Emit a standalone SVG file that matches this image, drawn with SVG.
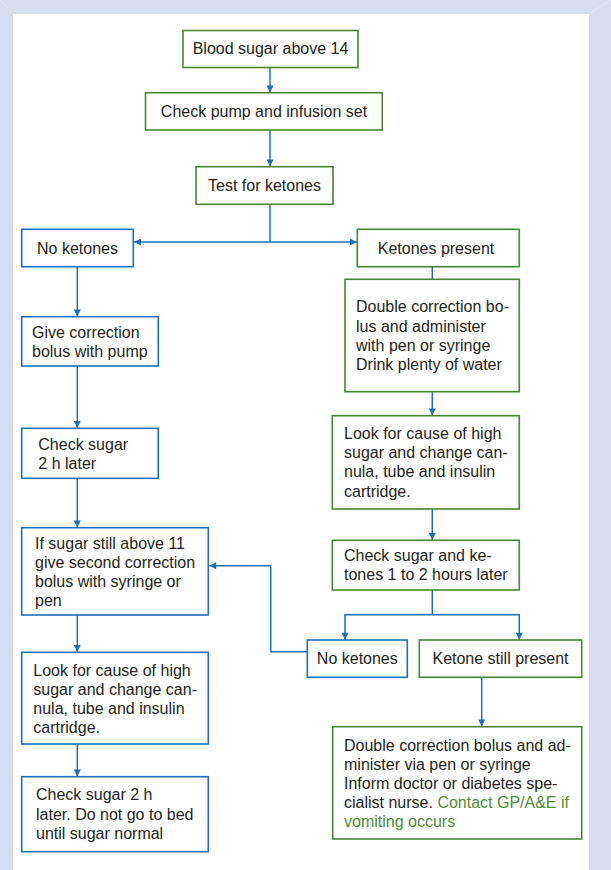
<svg xmlns="http://www.w3.org/2000/svg" width="611" height="870" viewBox="0 0 611 870">
<style>
  text { font-family: "Liberation Sans", Arial, sans-serif; font-size: 16px; fill: #231f20; }
  .c { text-anchor: middle; }
  .g rect { fill: #ffffff; stroke: #4b8236; stroke-width: 1.6; }
  .b rect { fill: #ffffff; stroke: #1d6fb8; stroke-width: 1.6; }
  .conn { fill: none; stroke: #1d6fb8; stroke-width: 1.5; }
  .gt { fill: #4e8c36; }
</style>
<defs>
  <marker id="ah" viewBox="0 0 10 10" refX="10" refY="5" markerUnits="userSpaceOnUse" markerWidth="8" markerHeight="7" orient="auto">
    <path d="M0,0 L10,5 L0,10 z" fill="#1d6fb8"/>
  </marker>
</defs>
<rect x="0" y="0" width="611" height="870" fill="#d5ddee"/>
<rect x="13" y="14" width="576" height="856" fill="#ffffff"/>
<line x1="0" y1="0" x2="13" y2="14" stroke="#e4e9f5" stroke-width="1"/>
<line x1="611" y1="0" x2="589" y2="14" stroke="#e4e9f5" stroke-width="1"/>

<g id="connectors">
  <line class="conn" x1="270" y1="67.5" x2="270" y2="92.5" marker-end="url(#ah)"/>
  <line class="conn" x1="270" y1="130" x2="270" y2="166.5" marker-end="url(#ah)"/>
  <line class="conn" x1="270" y1="204.5" x2="270" y2="242"/>
  <line class="conn" x1="270" y1="242" x2="134" y2="242" marker-end="url(#ah)"/>
  <line class="conn" x1="270" y1="242" x2="357" y2="242" marker-end="url(#ah)"/>
  <line class="conn" x1="77.3" y1="266.7" x2="77.3" y2="316.5" marker-end="url(#ah)"/>
  <line class="conn" x1="77.3" y1="366" x2="77.3" y2="428" marker-end="url(#ah)"/>
  <line class="conn" x1="77.3" y1="478.3" x2="77.3" y2="527.5" marker-end="url(#ah)"/>
  <line class="conn" x1="77.3" y1="615" x2="77.3" y2="652" marker-end="url(#ah)"/>
  <line class="conn" x1="77.3" y1="744" x2="77.3" y2="776.5" marker-end="url(#ah)"/>
  <line class="conn" x1="432.3" y1="266.7" x2="432.3" y2="279.3"/>
  <line class="conn" x1="432.3" y1="391.7" x2="432.3" y2="415.5" marker-end="url(#ah)"/>
  <line class="conn" x1="432.3" y1="509" x2="432.3" y2="540" marker-end="url(#ah)"/>
  <polyline class="conn" points="432.3,590 432.3,614.7"/>
  <polyline class="conn" points="432.3,614.7 345,614.7 345,639.8" marker-end="url(#ah)"/>
  <polyline class="conn" points="432.3,614.7 519.3,614.7 519.3,639.8" marker-end="url(#ah)"/>
  <polyline class="conn" points="307.3,651.7 270.7,651.7 270.7,565.7 209.2,565.7" marker-end="url(#ah)"/>
  <line class="conn" x1="481.7" y1="677.3" x2="481.7" y2="726.5" marker-end="url(#ah)"/>
</g>

<g id="n1" class="g">
  <rect x="183" y="30.5" width="175" height="37"/>
  <text class="c" x="270.5" y="54.3">Blood sugar above 14</text>
</g>
<g id="n2" class="g">
  <rect x="145.5" y="92.7" width="236.8" height="37.3"/>
  <text class="c" x="264" y="117">Check pump and infusion set</text>
</g>
<g id="n3" class="g">
  <rect x="196" y="166.7" width="137" height="37.6"/>
  <text class="c" x="264.5" y="191">Test for ketones</text>
</g>
<g id="n4" class="b">
  <rect x="21.7" y="229.3" width="111.6" height="37.4"/>
  <text class="c" x="77.5" y="253.7">No ketones</text>
</g>
<g id="n5" class="g">
  <rect x="357.3" y="229.3" width="162" height="37.4"/>
  <text class="c" x="436" y="253.7">Ketones present</text>
</g>
<g id="n6" class="b">
  <rect x="21.7" y="316.7" width="136.6" height="49.3"/>
  <text x="32" y="337.5">Give correction</text>
  <text x="32" y="356.5">bolus with pump</text>
</g>
<g id="n7" class="b">
  <rect x="21.7" y="428.3" width="136.6" height="50"/>
  <text x="38.3" y="449.7">Check sugar</text>
  <text x="38.3" y="468.5">2 h later</text>
</g>
<g id="n8" class="b">
  <rect x="21.7" y="527.7" width="186.6" height="87.3"/>
  <text x="35" y="549">If sugar still above 11</text>
  <text x="35" y="568">give second correction</text>
  <text x="35" y="587">bolus with syringe or</text>
  <text x="35" y="606">pen</text>
</g>
<g id="n9" class="b">
  <rect x="21.7" y="652.3" width="186.6" height="91.7"/>
  <text x="33.3" y="675.7">Look for cause of high</text>
  <text x="33.3" y="694.8">sugar and change can-</text>
  <text x="33.3" y="713.9">nula, tube and insulin</text>
  <text x="33.3" y="733">cartridge.</text>
</g>
<g id="n10" class="b">
  <rect x="21.7" y="776.7" width="186.6" height="75"/>
  <text x="36" y="800">Check sugar 2 h</text>
  <text x="36" y="819.5">later. Do not go to bed</text>
  <text x="36" y="839">until sugar normal</text>
</g>
<g id="n11" class="g">
  <rect x="345" y="279.3" width="174.3" height="112.4"/>
  <text x="356" y="312.4">Double correction bo-</text>
  <text x="356" y="331.6">lus and administer</text>
  <text x="356" y="350.8">with pen or syringe</text>
  <text x="356" y="370">Drink plenty of water</text>
</g>
<g id="n12" class="g">
  <rect x="332.3" y="415.7" width="187" height="93.3"/>
  <text x="344" y="439">Look for cause of high</text>
  <text x="344" y="458.2">sugar and change can-</text>
  <text x="344" y="477.4">nula, tube and insulin</text>
  <text x="344" y="496.5">cartridge.</text>
</g>
<g id="n13" class="g">
  <rect x="332.3" y="540.3" width="187" height="49.7"/>
  <text x="344" y="561.4">Check sugar and ke-</text>
  <text x="344" y="580.4">tones 1 to 2 hours later</text>
</g>
<g id="n14" class="b">
  <rect x="307.3" y="640" width="100" height="37.3"/>
  <text class="c" x="357.3" y="664">No ketones</text>
</g>
<g id="n15" class="g">
  <rect x="419.3" y="640" width="162.4" height="37.3"/>
  <text class="c" x="500.5" y="664">Ketone still present</text>
</g>
<g id="n16" class="g">
  <rect x="332.7" y="726.7" width="249" height="112.3"/>
  <text x="344" y="750.8">Double correction bolus and ad-</text>
  <text x="344" y="770">minister via pen or syringe</text>
  <text x="344" y="789">Inform doctor or diabetes spe-</text>
  <text x="344" y="808.3">cialist nurse. <tspan class="gt">Contact GP/A&amp;E if</tspan></text>
  <text x="344" y="827.4" class="gt">vomiting occurs</text>
</g>
</svg>
